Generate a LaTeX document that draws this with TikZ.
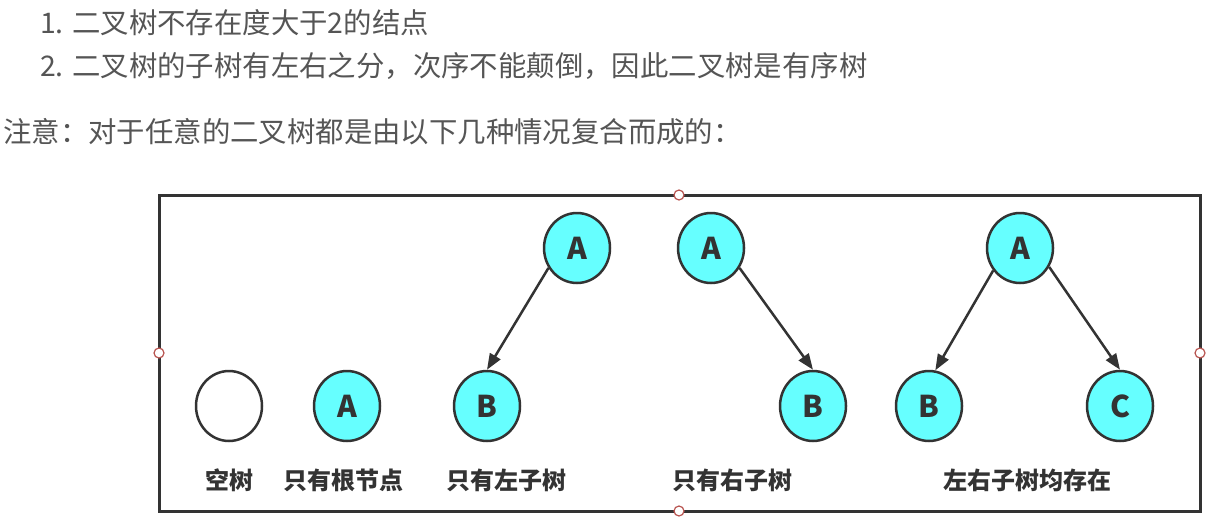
\documentclass[tikz,border=0pt]{standalone}
\usepackage{fontspec}
\usetikzlibrary{shapes.geometric,arrows.meta}
\newfontfamily\cjk{Noto Sans CJK SC}
\definecolor{txtgray}{HTML}{555555}
\definecolor{dark}{HTML}{333333}
\definecolor{cyanfill}{HTML}{66FFFF}
\definecolor{handle}{HTML}{B85450}
\begin{document}
\begin{tikzpicture}[x=1pt,y=-1pt,
  treenode/.style={ellipse,draw=dark,line width=2.5pt,fill=cyanfill,minimum width=66pt,minimum height=70pt,inner sep=0pt,font=\cjk\bfseries\fontsize{30}{32}\selectfont,text=dark},
  emptynode/.style={treenode,fill=white},
  edge/.style={draw=dark,line width=2.5pt,-{Triangle[length=16pt,width=12pt]}},
  caption/.style={font=\cjk\bfseries\fontsize{24}{26}\selectfont,text=dark,inner sep=0pt,anchor=base},
  topline/.style={font=\cjk\fontsize{28.4}{30}\selectfont,text=txtgray,inner sep=0pt,anchor=base west},
  handlept/.style={circle,draw=handle,fill=white,line width=1.2pt,minimum size=10pt,inner sep=0pt}]
\useasboundingbox (0,0) rectangle (1209,519);
% top text
\node[topline] (t1) at (40,34) {1. 二叉树不存在度大于2的结点};
\node[topline] (t2) at (40,76) {2. 二叉树的子树有左右之分，次序不能颠倒，因此二叉树是有序树};
\node[topline] (t3) at (3,142) {注意：对于任意的二叉树都是由以下几种情况复合而成的：};
% frame
\draw[dark,line width=3pt] (159,195) rectangle (1200,511);
\node[handlept] (h1) at (679,195) {};
\node[handlept] (h2) at (159,353) {};
\node[handlept] (h3) at (1200,353) {};
\node[handlept] (h4) at (679,511) {};
% nodes
\node[emptynode] (e) at (229,406) {};
\node[treenode] (r) at (347,406) {A};
\node[treenode] (la) at (577,248) {A};
\node[treenode] (lb) at (487,406) {B};
\node[treenode] (ra) at (711,248) {A};
\node[treenode] (rb) at (813,406) {B};
\node[treenode] (ba) at (1020,248) {A};
\node[treenode] (bb) at (929,406) {B};
\node[treenode] (bc) at (1120,406) {C};
% edges
\draw[edge] (la.215) -- (lb.north);
\draw[edge] (ra.325) -- (rb.north);
\draw[edge] (ba.220) -- (bb.80);
\draw[edge] (ba.327) -- (bc.north);
% captions
\node[caption] (c1) at (229,489) {空树};
\node[caption] (c2) at (343,489) {只有根节点};
\node[caption] (c3) at (506,489) {只有左子树};
\node[caption] (c4) at (732,489) {只有右子树};
\node[caption] (c5) at (1027,489) {左右子树均存在};
\end{tikzpicture}
\end{document}
